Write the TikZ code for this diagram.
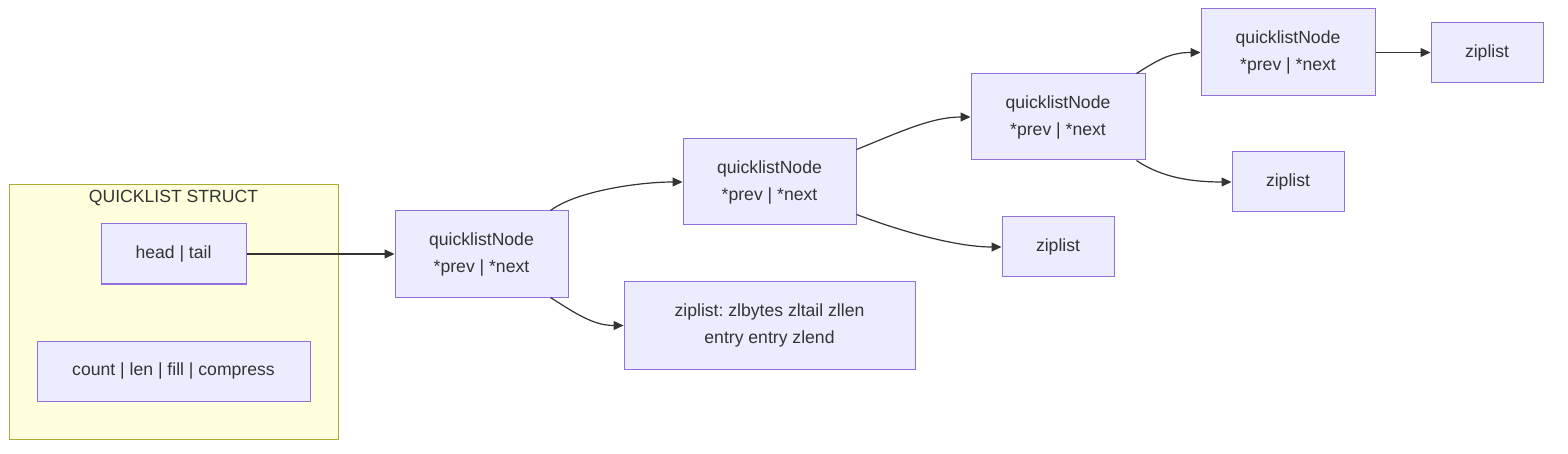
\documentclass[tikz,border=0pt]{standalone}
\usepackage{fontspec}
\setmainfont{Liberation Sans}
\usetikzlibrary{arrows.meta,calc}
\definecolor{nodefill}{HTML}{ECECFF}
\definecolor{nodeline}{HTML}{9370DB}
\definecolor{clfill}{HTML}{FFFFDE}
\definecolor{clline}{HTML}{AAAA33}
\definecolor{txt}{HTML}{333333}
\definecolor{edge}{HTML}{333333}
\frenchspacing
\begin{document}
\begin{tikzpicture}[x=1pt,y=-1pt,
  box/.style={draw=nodeline,fill=nodefill,line width=1pt,inner sep=0pt,
    text=txt,align=center,font=\fontsize{17.6}{27}\selectfont},
  cluster/.style={draw=clline,fill=clfill,line width=1pt,inner sep=0pt},
  link/.style={draw=edge,line width=1.2pt,-{Triangle[length=10pt,width=9pt]}}]
\useasboundingbox (0,0) rectangle (1568,454);
% cluster
\node[cluster,minimum width=329pt,minimum height=254pt] (cl) at (173.5,312) {};
\node[text=txt,font=\fontsize{17.6}{27}\selectfont,anchor=base,inner sep=0pt] (cltitle) at (173.5,203) {QUICKLIST STRUCT};
% nodes
\node[box,minimum width=145pt,minimum height=60pt] (ht) at (173.5,254) {head | tail};
\node[box,minimum width=273pt,minimum height=60pt] (cnt) at (173.5,371) {count | len | fill | compress};
\node[box,minimum width=173pt,minimum height=86pt] (qn1) at (481.5,254) {quicklistNode\\*prev | *next};
\node[box,minimum width=291pt,minimum height=87pt] (zl1) at (769.5,325.5) {ziplist: zlbytes zltail zllen\\entry entry zlend};
\node[box,minimum width=173pt,minimum height=86pt] (qn2) at (769.5,182) {quicklistNode\\*prev | *next};
\node[box,minimum width=112pt,minimum height=60pt] (zl2) at (1058,247) {ziplist};
\node[box,minimum width=174pt,minimum height=86pt] (qn3) at (1058,117) {quicklistNode\\*prev | *next};
\node[box,minimum width=112pt,minimum height=60pt] (zl3) at (1288,182) {ziplist};
\node[box,minimum width=174pt,minimum height=87pt] (qn4) at (1288,52.5) {quicklistNode\\*prev | *next};
\node[box,minimum width=112pt,minimum height=60pt] (zl4) at (1487,52.5) {ziplist};
% connectors
\draw[link] (ht.east) -- (qn1.west);
\draw[link] ($(qn1.north east)+(-18,0)$) .. controls +(25,-19) and +(-45,0) .. (qn2.west);
\draw[link] ($(qn1.south east)+(-18,0)$) .. controls +(25,16) and +(-30,0) .. (zl1.west);
\draw[link] ($(qn2.north east)+(0,11)$) .. controls +(40,-16) and +(-40,0) .. (qn3.west);
\draw[link] ($(qn2.south east)+(0,-11)$) .. controls +(45,17) and +(-45,0) .. (zl2.west);
\draw[link] ($(qn3.north east)+(-9,0)$) .. controls +(22,-14) and +(-30,0) .. (qn4.west);
\draw[link] ($(qn3.south east)+(-9,0)$) .. controls +(25,17) and +(-40,0) .. (zl3.west);
\draw[link] (qn4.east) -- (zl4.west);
\end{tikzpicture}
\end{document}
